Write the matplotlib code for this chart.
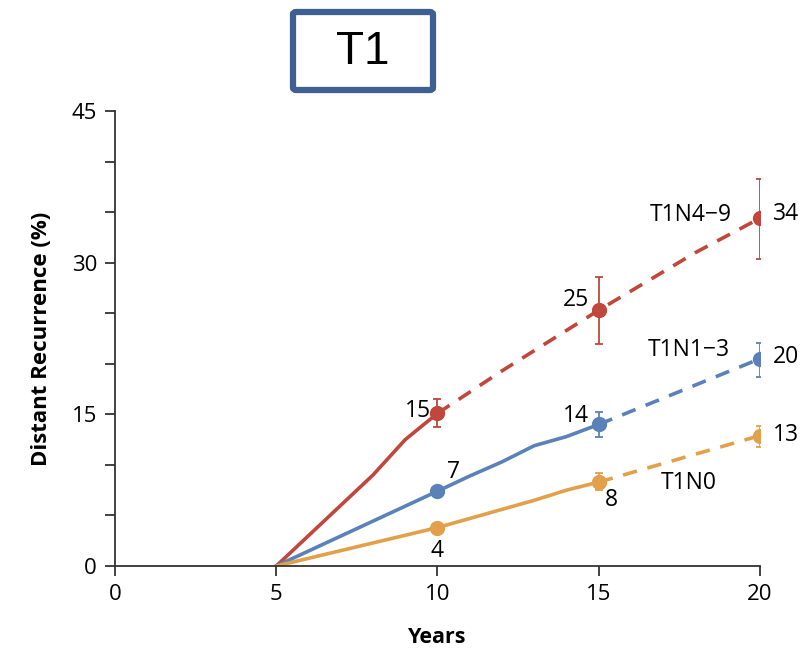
import matplotlib
matplotlib.use("Agg")
import matplotlib.pyplot as plt
from matplotlib.patches import FancyBboxPatch

plt.rcParams['font.family'] = ['Open Sans', 'DejaVu Sans']

# Data
years_solid = [5, 6, 7, 8, 9, 10]
red_solid = [0, 3.0, 6.0, 9.0, 12.5, 15.1]
red_dash_x = [10, 11, 12, 13, 14, 15, 16, 17, 18, 19, 20]
red_dash = [15.1, 17.2, 19.3, 21.3, 23.3, 25.3, 27.2, 29.1, 31.0, 32.7, 34.4]

blue_solid_x = [5, 10, 11, 12, 13, 14, 15]
blue_solid = [0, 7.4, 8.9, 10.3, 11.9, 12.8, 14.0]
blue_dash_x = [15, 20]
blue_dash = [14.0, 20.5]

orange_solid_x = [5, 10, 11, 12, 13, 14, 15]
orange_solid = [0, 3.8, 4.7, 5.6, 6.5, 7.5, 8.3]
orange_dash_x = [15, 20]
orange_dash = [8.3, 12.9]

pt_x = [10, 15, 20]
red_pts = [15.1, 25.3, 34.4]
red_lo = [13.7, 22.0, 30.4]
red_hi = [16.5, 28.6, 38.3]
blue_pts = [7.4, 14.0, 20.5]
blue_lo = [7.4, 12.8, 18.7]
blue_hi = [7.4, 15.2, 22.1]
orange_pts = [3.8, 8.3, 12.9]
orange_lo = [3.8, 7.5, 11.8]
orange_hi = [3.8, 9.2, 13.8]

RED = '#c1463b'
BLUE = '#5b81b9'
ORANGE = '#e2a04b'

fig = plt.figure(figsize=(8.04, 6.51), dpi=100)
ax = fig.add_axes([115/804, 85/651, 645/804, 455/651])

lw = 2.6
ax.plot(years_solid, red_solid, color=RED, lw=lw, solid_capstyle='round')
ax.plot(red_dash_x, red_dash, color=RED, lw=lw, ls=(0, (4, 3)))
ax.plot(blue_solid_x, blue_solid, color=BLUE, lw=lw)
ax.plot(blue_dash_x, blue_dash, color=BLUE, lw=lw, ls=(0, (4, 3)))
ax.plot(orange_solid_x, orange_solid, color=ORANGE, lw=lw)
ax.plot(orange_dash_x, orange_dash, color=ORANGE, lw=lw, ls=(0, (4, 3)))

for vals, lo, hi, c in [(red_pts, red_lo, red_hi, RED),
                        (blue_pts, blue_lo, blue_hi, BLUE),
                        (orange_pts, orange_lo, orange_hi, ORANGE)]:
    yerr = [[v - l for v, l in zip(vals, lo)], [h - v for v, h in zip(vals, hi)]]
    ax.errorbar(pt_x, vals, yerr=yerr, fmt='o', color=c, ms=10, elinewidth=1.3,
                capsize=3, capthick=1.3, zorder=5)

fs = 16.5
ax.text(9.8, 15.3, '15', ha='right', va='center', fontsize=fs)
ax.text(10.5, 9.3, '7', ha='center', va='center', fontsize=fs)
ax.text(10.0, 1.5, '4', ha='center', va='center', fontsize=fs)
ax.text(14.7, 14.8, '14', ha='right', va='center', fontsize=fs)
ax.text(15.4, 6.5, '8', ha='center', va='center', fontsize=fs)
ax.text(14.7, 26.3, '25', ha='right', va='center', fontsize=fs)
ax.text(20.4, 34.8, '34', ha='left', va='center', fontsize=fs)
ax.text(20.4, 20.7, '20', ha='left', va='center', fontsize=fs)
ax.text(20.4, 13.0, '13', ha='left', va='center', fontsize=fs)
ax.text(19.13, 34.7, 'T1N4\u22129', ha='right', va='center', fontsize=fs)
ax.text(19.07, 21.4, 'T1N1\u22123', ha='right', va='center', fontsize=fs)
ax.text(18.67, 8.2, 'T1N0', ha='right', va='center', fontsize=fs)

ax.set_xlim(0, 20)
ax.set_ylim(0, 45)
ax.set_xticks([0, 5, 10, 15, 20])
ax.set_yticks([0, 15, 30, 45])
ax.set_yticks([5, 10, 20, 25, 35, 40], minor=True)
ax.tick_params(axis='both', which='both', length=7, width=1.3, color='#333333',
               labelsize=16, pad=6)
ax.tick_params(axis='y', which='minor', length=7)
for s in ['top', 'right']:
    ax.spines[s].set_visible(False)
for s in ['left', 'bottom']:
    ax.spines[s].set_linewidth(1.3)
    ax.spines[s].set_color('#333333')
ax.spines['left'].set_bounds(0, 45)

ax.set_xlabel('Years', fontsize=15.5, fontweight='bold', labelpad=16)
ax.set_ylabel('Distant Recurrence (%)', fontsize=16, fontweight='bold', labelpad=14)

# Title box
box = FancyBboxPatch((293/804, 1 - 90/651), 140/804, 78/651,
                     boxstyle='round,pad=0,rounding_size=0.004',
                     transform=fig.transFigure, facecolor='white',
                     edgecolor='#3e5f8f', linewidth=4.5)
fig.patches.append(box)
fig.text(363/804, 1 - 52/651, 'T1', ha='center', va='center', fontsize=33,
         family=['Liberation Sans', 'DejaVu Sans'])

fig.savefig('out.png', dpi=100)
